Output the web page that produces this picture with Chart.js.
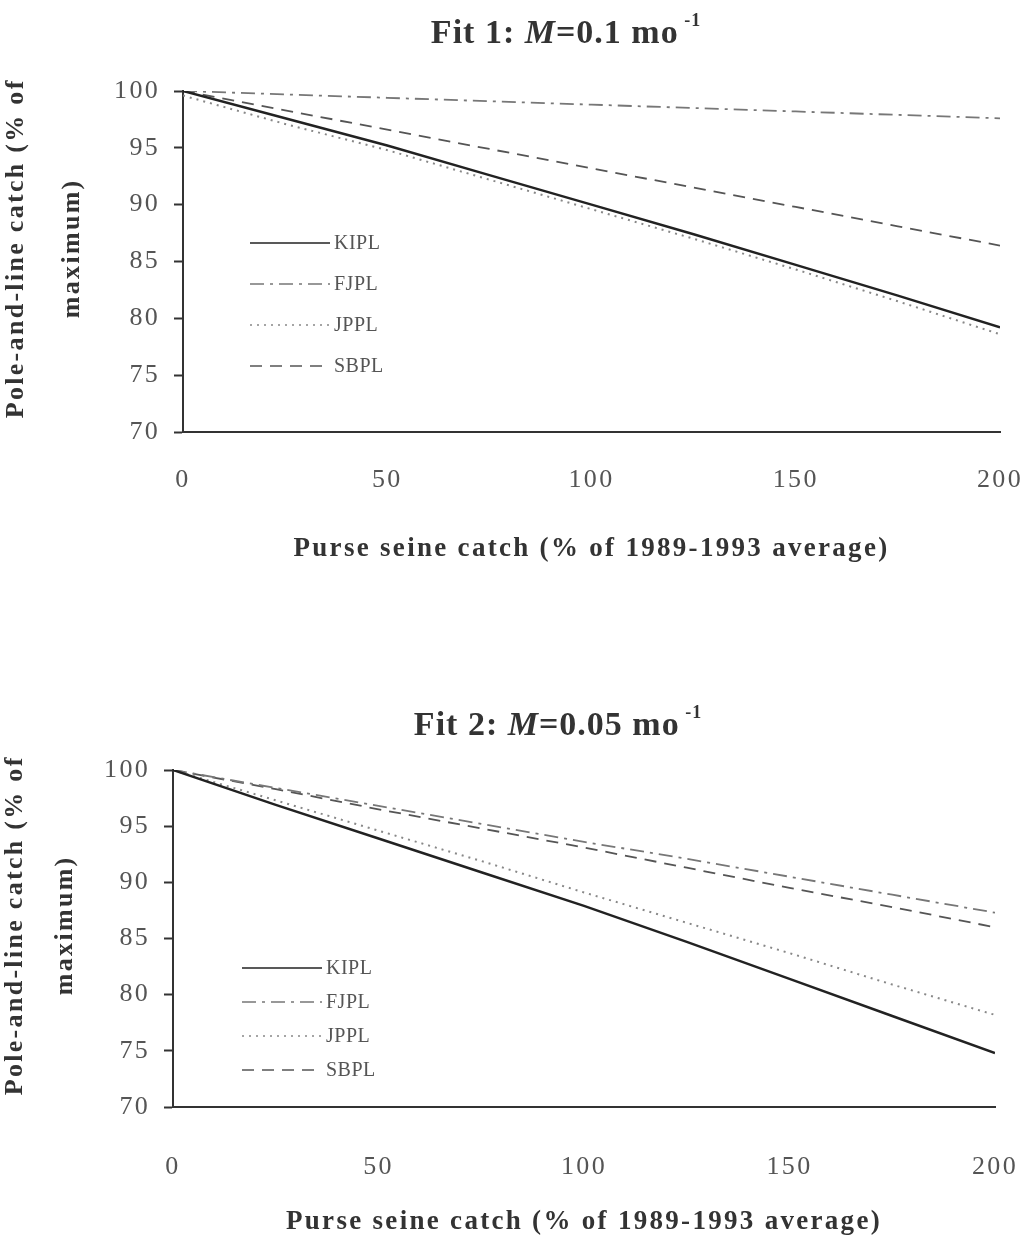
<!DOCTYPE html>
<html>
<head>
<meta charset="utf-8">
<script src="https://cdn.jsdelivr.net/npm/chart.js@4.4.1/dist/chart.umd.min.js"></script>
<style>
  body { margin: 0; background: #fff; }
  canvas { display: block; }
</style>
</head>
<body>
<canvas id="fit1" width="1024" height="610"></canvas>
<canvas id="fit2" width="1024" height="628"></canvas>
<script>
// purse seine catch, % of 1989-1993 average
const catchLevels = [0, 25, 50, 75, 100, 125, 150, 175, 200];
const fleets = ['KIPL', 'FJPL', 'JPPL', 'SBPL'];

// Fit 1: M = 0.1 mo-1
const fit1KIPL = [100, 97.6, 95.2, 92.6, 90.0, 87.4, 84.7, 82.0, 79.2];
const fit1FJPL = [100, 99.7, 99.4, 99.1, 98.8, 98.5, 98.2, 97.9, 97.6];
const fit1JPPL = [99.6, 97.1, 94.8, 92.2, 89.6, 87.0, 84.3, 81.5, 78.6];
const fit1SBPL = [100, 98.3, 96.6, 94.9, 93.2, 91.5, 89.8, 88.1, 86.4];

// Fit 2: M = 0.05 mo-1
const fit2KIPL = [100, 96.9, 93.9, 90.9, 87.9, 84.7, 81.4, 78.1, 74.8];
const fit2FJPL = [100, 98.4, 96.8, 95.2, 93.6, 92.1, 90.5, 88.9, 87.3];
const fit2JPPL = [100, 97.3, 94.6, 91.9, 89.1, 86.4, 83.7, 80.9, 78.2];
const fit2SBPL = [100, 98.3, 96.5, 94.8, 93.1, 91.3, 89.5, 87.8, 86.0];

const yMin = 70, yMax = 100, yStep = 5;
const xMin = 0, xMax = 200, xStep = 50;

const SERIF = '"Liberation Serif", "Times New Roman", serif';

const lineStyles = {
  KIPL: { borderColor: '#222', borderWidth: 2.5, borderDash: [] },
  FJPL: { borderColor: '#777', borderWidth: 1.8, borderDash: [14, 6, 3, 6] },
  JPPL: { borderColor: '#888', borderWidth: 2, borderDash: [2, 5] },
  SBPL: { borderColor: '#555', borderWidth: 1.8, borderDash: [12, 8] },
};

// title with italic M and superscript, drawn above the plot
const fitTitle = {
  id: 'fitTitle',
  afterDraw(chart, args, opts) {
    const ctx = chart.ctx;
    const parts = [
      { t: 'Fit ' + opts.n + ': ', f: 'bold 34px ' + SERIF, dy: 0 },
      { t: 'M', f: 'italic bold 34px ' + SERIF, dy: 0 },
      { t: '=' + opts.m + ' mo', f: 'bold 34px ' + SERIF, dy: 0 },
      { t: ' -1', f: 'bold 18px ' + SERIF, dy: -17 },
    ];
    ctx.save();
    ctx.letterSpacing = '1px';
    ctx.fillStyle = '#333';
    ctx.textBaseline = 'alphabetic';
    ctx.textAlign = 'left';
    let total = 0;
    for (const p of parts) { ctx.font = p.f; p.w = ctx.measureText(p.t).width; total += p.w; }
    let x = opts.cx - total / 2;
    for (const p of parts) {
      ctx.font = p.f;
      ctx.fillText(p.t, x, opts.y + p.dy);
      x += p.w;
    }
    ctx.restore();
  }
};

// legend inside the plot, built from the datasets
const innerLegend = {
  id: 'innerLegend',
  afterDatasetsDraw(chart, args, opts) {
    const ctx = chart.ctx;
    const area = chart.chartArea;
    ctx.save();
    ctx.letterSpacing = '0.5px';
    ctx.font = '20px ' + SERIF;
    ctx.textBaseline = 'middle';
    chart.data.datasets.forEach((ds, i) => {
      const x0 = area.left + opts.dx;
      const y = area.top + opts.dy + i * opts.gap;
      ctx.strokeStyle = ds.borderColor;
      ctx.lineWidth = Math.min(ds.borderWidth, 1.6);
      ctx.setLineDash(ds.borderDash);
      ctx.beginPath();
      ctx.moveTo(x0, y);
      ctx.lineTo(x0 + opts.len, y);
      ctx.stroke();
      ctx.setLineDash([]);
      ctx.fillStyle = '#555';
      ctx.fillText(ds.label, x0 + opts.len + 4, y + 1);
    });
    ctx.restore();
  }
};

const spacing = {
  id: 'spacing',
  beforeDraw(chart) { chart.ctx.letterSpacing = '2.3px'; }
};

function drawFit(id, series, cfg) {
  const ctx = document.getElementById(id);
  return new Chart(ctx, {
    type: 'line',
    data: {
      datasets: fleets.map((name, i) => ({
        label: name,
        data: catchLevels.map((x, j) => ({ x: x, y: series[i][j] })),
        ...lineStyles[name],
        pointRadius: 0,
        tension: 0,
        fill: false,
      })),
    },
    options: {
      responsive: false,
      animation: false,
      layout: { padding: { top: cfg.top, right: cfg.right, bottom: 0, left: 0 } },
      plugins: {
        legend: { display: false },
        tooltip: { enabled: false },
        fitTitle: { n: cfg.n, m: cfg.m, cx: cfg.titleX, y: cfg.titleY },
        innerLegend: { dx: cfg.legX, dy: cfg.legY, gap: cfg.legGap, len: 80 },
      },
      scales: {
        x: {
          type: 'linear',
          min: xMin,
          max: xMax,
          afterFit: (s) => { s.height = cfg.xHeight; s.paddingRight = 0; s.paddingLeft = 0; },
          grid: { display: true, drawOnChartArea: false, drawTicks: false },
          border: { display: true, color: '#333', width: 2 },
          ticks: { stepSize: xStep, padding: cfg.xPad, color: '#555', font: { family: SERIF, size: 26 } },
          title: {
            display: true,
            text: 'Purse seine catch (% of 1989-1993 average)',
            color: '#333',
            font: { family: SERIF, size: 27, weight: 'bold' },
            padding: { top: 0, bottom: cfg.xTitlePad },
          },
        },
        y: {
          min: yMin,
          max: yMax,
          afterFit: (s) => { s.width = cfg.yWidth; },
          grid: { display: true, drawOnChartArea: false, drawTicks: true, tickLength: 9, color: '#333', tickWidth: 2 },
          border: { display: true, color: '#333', width: 2 },
          ticks: { stepSize: yStep, padding: 14, color: '#555', font: { family: SERIF, size: 26 } },
          title: {
            display: true,
            text: ['   Pole-and-line catch (% of', '   maximum)'],
            color: '#333',
            font: { family: SERIF, size: 26, weight: 'bold', lineHeight: cfg.yLine },
            padding: { top: cfg.yTitlePad, bottom: 0 },
          },
        },
      },
    },
    plugins: [spacing, fitTitle, innerLegend],
  });
}

drawFit('fit1', [fit1KIPL, fit1FJPL, fit1JPPL, fit1SBPL], {
  n: 1, m: '0.1', titleX: 566, titleY: 43,
  top: 91, right: 24, xHeight: 178, xPad: 33, xTitlePad: 45,
  yWidth: 183, yLine: 2.15, yTitlePad: -12,
  legX: 67, legY: 152, legGap: 41,
});

drawFit('fit2', [fit2KIPL, fit2FJPL, fit2JPPL, fit2SBPL], {
  n: 2, m: '0.05', titleX: 558, titleY: 125,
  top: 160, right: 29, xHeight: 131, xPad: 45, xTitlePad: 0,
  yWidth: 173, yLine: 1.92, yTitlePad: -10,
  legX: 69, legY: 198, legGap: 34,
});
</script>
</body>
</html>
